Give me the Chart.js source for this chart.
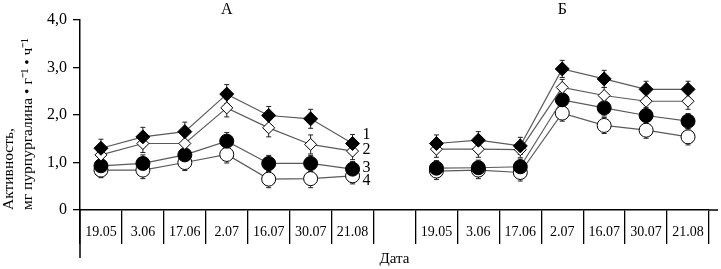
<!DOCTYPE html>
<html>
<head>
<meta charset="utf-8">
<script src="https://cdn.jsdelivr.net/npm/chart.js@4"></script>
<style>
  html, body { margin: 0; padding: 0; background: #fff; }
  #wrap { width: 721px; height: 269px; }
</style>
</head>
<body>
<div id="wrap"><canvas id="activityChart" width="721" height="269"></canvas></div>
<script>
// Dates of sampling (same for both panels)
const dates = ['19.05', '3.06', '17.06', '2.07', '16.07', '30.07', '21.08'];
const panelTitles = ['А', 'Б'];
const seriesNames = ['1', '2', '3', '4'];
const yTicks = [0, 1, 2, 3, 4];

// Panel A values
const s1A = [1.30, 1.54, 1.65, 2.44, 1.99, 1.92, 1.40];
const s2A = [1.16, 1.40, 1.40, 2.15, 1.73, 1.38, 1.24];
const s3A = [0.93, 0.98, 1.16, 1.45, 0.98, 0.98, 0.86];
const s4A = [0.84, 0.84, 1.00, 1.17, 0.65, 0.66, 0.72];
// Panel Б values
const s1B = [1.40, 1.47, 1.35, 2.97, 2.76, 2.54, 2.54];
const s2B = [1.28, 1.28, 1.27, 2.58, 2.41, 2.29, 2.29];
const s3B = [0.88, 0.89, 0.91, 2.32, 2.15, 1.99, 1.87];
const s4B = [0.82, 0.84, 0.79, 2.04, 1.78, 1.68, 1.54];

// Error bars (± values)
const e1A = [0.19, 0.20, 0.20, 0.20, 0.19, 0.20, 0.19];
const e2A = [0.18, 0.19, 0.19, 0.19, 0.19, 0.20, 0.18];
const e3A = [0.17, 0.18, 0.18, 0.18, 0.17, 0.17, 0.16];
const e4A = [0.16, 0.18, 0.17, 0.18, 0.18, 0.19, 0.17];
const e1B = [0.18, 0.18, 0.18, 0.18, 0.18, 0.17, 0.17];
const e2B = [0.17, 0.17, 0.17, 0.17, 0.17, 0.17, 0.17];
const e3B = [0.16, 0.16, 0.16, 0.17, 0.17, 0.17, 0.16];
const e4B = [0.18, 0.18, 0.18, 0.17, 0.17, 0.17, 0.17];

// one empty slot between the panels
const labels = [...dates, '', ...dates];
const join = (a, b) => [...a, null, ...b];

const serif = 'Liberation Serif, Times New Roman, serif';
const lineColor = '#5a5a5a';

function series(name, vals, errs, style, fill, radius) {
    return {
        label: name,
        data: vals,
        errors: errs,
        borderColor: lineColor,
        borderWidth: 1.2,
        pointStyle: style,
        pointRadius: radius,
        pointBackgroundColor: fill,
        pointBorderColor: '#000',
        pointBorderWidth: 1,
        spanGaps: false,
        tension: 0
    };
}

// Error bars, panel titles, series numbers, extra axis lines
const extras = {
    id: 'extras',
    beforeDatasetsDraw(chart) {
        const ctx = chart.ctx;
        const x = chart.scales.x, y = chart.scales.y;
        ctx.save();
        ctx.strokeStyle = '#222';
        ctx.lineWidth = 1;
        chart.data.datasets.forEach(ds => {
            ds.data.forEach((v, i) => {
                if (v === null) return;
                const e = ds.errors[i];
                const px = x.getPixelForValue(i);
                const top = y.getPixelForValue(v + e);
                const bot = y.getPixelForValue(v - e);
                ctx.beginPath();
                ctx.moveTo(px, top); ctx.lineTo(px, bot);
                ctx.moveTo(px - 2.5, top); ctx.lineTo(px + 2.5, top);
                ctx.moveTo(px - 2.5, bot); ctx.lineTo(px + 2.5, bot);
                ctx.stroke();
            });
        });
        ctx.restore();
    },
    afterDraw(chart) {
        const ctx = chart.ctx;
        const x = chart.scales.x, y = chart.scales.y;
        const area = chart.chartArea;
        ctx.save();
        ctx.fillStyle = '#000';
        ctx.strokeStyle = '#000';
        ctx.font = '16px ' + serif;
        ctx.textAlign = 'center';
        ctx.textBaseline = 'middle';
        ctx.fillText(panelTitles[0], x.getPixelForValue(3), 10);
        ctx.fillText(panelTitles[1], x.getPixelForValue(11), 10);

        // series numbers at the end of panel A
        const offs = [-9, -1, -1, 5];
        ctx.textAlign = 'left';
        chart.data.datasets.forEach((ds, k) => {
            const py = y.getPixelForValue(ds.data[6]) + offs[k];
            ctx.fillText(seriesNames[k], x.getPixelForValue(6) + 10, py);
        });

        // longer first divider and axis extension
        ctx.lineWidth = 1.5;
        ctx.beginPath();
        ctx.moveTo(area.left, area.bottom);
        ctx.lineTo(area.left, 258);
        ctx.moveTo(area.right, area.bottom);
        ctx.lineTo(area.right + 9, area.bottom);
        ctx.stroke();
        ctx.restore();
    }
};

const ctx = document.getElementById('activityChart').getContext('2d');
new Chart(ctx, {
    type: 'line',
    data: {
        labels: labels,
        datasets: [
            series('1', join(s1A, s1B), join(e1A, e1B), 'rectRot', '#000', 7),
            series('2', join(s2A, s2B), join(e2A, e2B), 'rectRot', '#fff', 6),
            series('3', join(s3A, s3B), join(e3A, e3B), 'circle', '#000', 7),
            series('4', join(s4A, s4B), join(e4A, e4B), 'circle', '#fff', 7)
        ]
    },
    options: {
        responsive: false,
        animation: false,
        layout: { padding: { left: 0, top: 20, right: 12, bottom: 0 } },
        plugins: {
            legend: { display: false },
            tooltip: { enabled: false }
        },
        scales: {
            x: {
                offset: true,
                grid: { offset: true, drawOnChartArea: false, tickLength: 34, color: '#000', lineWidth: 1.3 },
                border: { color: '#000', width: 1.5 },
                ticks: {
                    padding: -20, color: '#000', maxRotation: 0, autoSkip: false,
                    font: { family: serif, size: 14 }
                },
                title: { display: true, text: 'Дата', color: '#000', font: { family: serif, size: 15 }, padding: { top: 0, bottom: 1 } },
                afterFit: s => { s.height = 59; }
            },
            y: {
                min: 0, max: 4,
                afterBuildTicks: s => { s.ticks = yTicks.map(v => ({ value: v })); },
                grid: { drawOnChartArea: false, tickLength: 7, color: '#000', lineWidth: 1.3 },
                border: { color: '#000', width: 1.5 },
                ticks: {
                    color: '#000', padding: 6,
                    font: { family: serif, size: 16 },
                    callback: v => v === 0 ? '0' : v.toFixed(1).replace('.', ',')
                },
                title: {
                    display: true, color: '#000', align: 'start',
                    text: ['Активность,', 'мг пурпургалина • г⁻¹ • ч⁻¹'],
                    font: { family: serif, size: 15.5 }, padding: { top: 0, bottom: 4 }
                },
                afterFit: s => { s.width = 80; }
            }
        }
    },
    plugins: [extras]
});
</script>
</body>
</html>
